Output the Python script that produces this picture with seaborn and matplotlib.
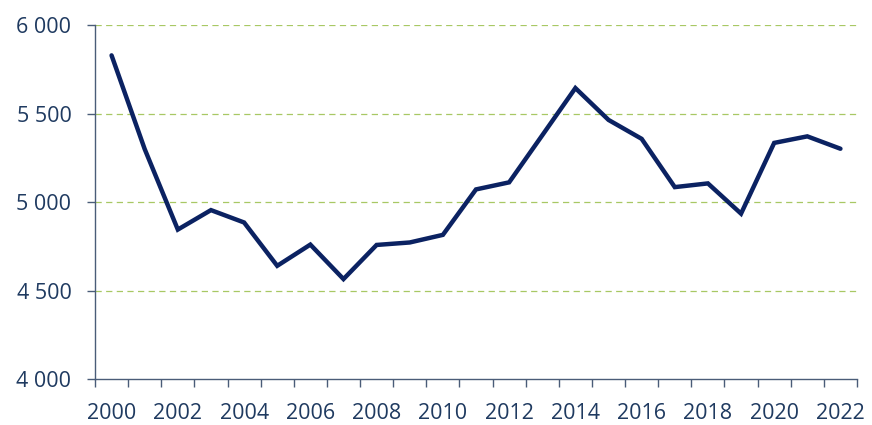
import matplotlib
matplotlib.use("Agg")
import matplotlib.pyplot as plt
import seaborn as sns
import numpy as np
import pandas as pd

years = list(range(2000, 2023))
values = [5830, 5300, 4845, 4955, 4885, 4640, 4760, 4565, 4758, 4772, 4815,
          5072, 5112, 5378, 5645, 5465, 5358, 5085, 5106, 4935, 5335, 5372, 5302]
y_ticks = [4000, 4500, 5000, 5500, 6000]
y_tick_labels = ["4 000", "4 500", "5 000", "5 500", "6 000"]
x_label_years = years[::2]

sns.set_style("white")
plt.rcParams['font.family'] = ['Open Sans', 'DejaVu Sans']

df = pd.DataFrame({"year": years, "value": values})

fig = plt.figure(figsize=(8.72, 4.25), dpi=100)
ax = fig.add_axes([95/872, 46/425, 762/872, 353.7/425])

label_color = "#1F3A60"
axis_color = "#4A5C78"

for yv in y_ticks[1:]:
    ax.axhline(yv, color="#A8C864", lw=0.9, ls=(0, (5, 3.5)), zorder=1)

sns.lineplot(data=df, x="year", y="value", ax=ax, color="#0B2262", lw=3.2,
             zorder=3, solid_joinstyle="miter")

ax.set_xlim(years[0] - 0.5, years[-1] + 0.5)
ax.set_ylim(y_ticks[0], y_ticks[-1])
ax.set_yticks(y_ticks)
ax.set_yticklabels(y_tick_labels)
ax.set_xticks(x_label_years)
ax.set_xticklabels([str(y) for y in x_label_years])
ax.set_xticks(np.arange(years[0] - 0.5, years[-1] + 1.0, 1.0), minor=True)

ax.tick_params(axis="x", which="both", bottom=True)
ax.tick_params(axis="y", which="both", left=True)
ax.tick_params(axis="x", which="major", length=0, pad=17, labelsize=15.5,
               labelcolor=label_color)
ax.tick_params(axis="x", which="minor", length=6, width=1.0, color=axis_color,
               direction="out")
ax.tick_params(axis="y", which="major", length=6, width=1.0, color=axis_color,
               direction="out", pad=11, labelsize=15.5, labelcolor=label_color)

ax.set_xlabel("")
ax.set_ylabel("")
for s in ["top", "right"]:
    ax.spines[s].set_visible(False)
for s in ["left", "bottom"]:
    ax.spines[s].set_color(axis_color)
    ax.spines[s].set_linewidth(1.0)

fig.savefig("out.png", dpi=100)
